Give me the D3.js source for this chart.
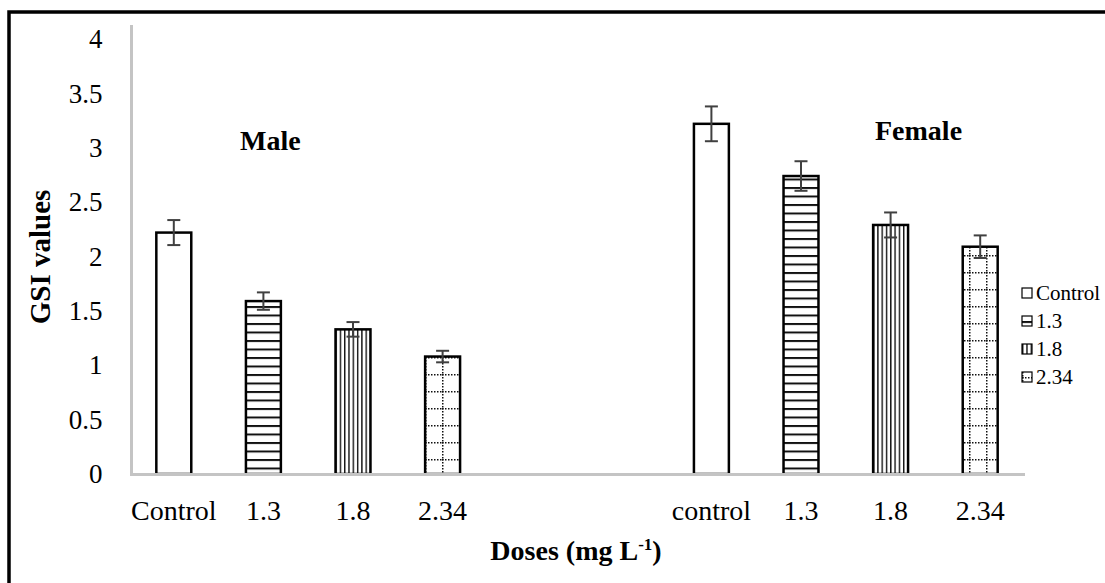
<!DOCTYPE html>
<html>
<head>
<meta charset="utf-8">
<script src="https://cdn.jsdelivr.net/npm/d3@7"></script>
<style>
  html, body { margin: 0; padding: 0; background: #fff; }
  svg text { font-family: "Liberation Serif", "Times New Roman", Tinos, "DejaVu Serif", serif !important; }
</style>
</head>
<body>
<svg id="chart" width="1105" height="583"></svg>
<script>
// Gonado-somatic index by dose, male and female groups
const doseSeries = ["Control", "1.3", "1.8", "2.34"];
const categoryKeys = ["m0", "m1", "m2", "m3", "gapA", "gapB", "f0", "f1", "f2", "f3"];
const categoryLabels = ["Control", "1.3", "1.8", "2.34", "", "", "control", "1.3", "1.8", "2.34"];
const maleGSI = [2.22, 1.59, 1.33, 1.08];
const maleErr = [0.115, 0.08, 0.067, 0.053];
const femaleGSI = [3.22, 2.74, 2.29, 2.09];
const femaleErr = [0.16, 0.136, 0.115, 0.104];
const yTicks = [0, 0.5, 1, 1.5, 2, 2.5, 3, 3.5, 4];
const yTickLabels = ["0", "0.5", "1", "1.5", "2", "2.5", "3", "3.5", "4"];
const groupLabels = ["Male", "Female"];

const bars = [
  ...maleGSI.map((v, i) => ({ key: categoryKeys[i], value: v, err: maleErr[i], series: i })),
  ...femaleGSI.map((v, i) => ({ key: categoryKeys[6 + i], value: v, err: femaleErr[i], series: i }))
];

const svg = d3.select("#chart");

const x = d3.scaleBand().domain(categoryKeys).range([129, 1025]).paddingInner(0.61).paddingOuter(0.305);
const y = d3.scaleLinear().domain([0, 4]).range([474, 39]);

// fill patterns for the dose series
const defs = svg.append("defs");
const hPat = defs.append("pattern").attr("id", "pat-h").attr("patternUnits", "userSpaceOnUse")
  .attr("width", 8).attr("height", 8.5);
hPat.append("rect").attr("width", 8).attr("height", 8.5).attr("fill", "#fff");
hPat.append("rect").attr("y", 0).attr("width", 8).attr("height", 2).attr("fill", "#111");

const vPat = defs.append("pattern").attr("id", "pat-v").attr("patternUnits", "userSpaceOnUse")
  .attr("width", 4.3).attr("height", 8);
vPat.append("rect").attr("width", 4.3).attr("height", 8).attr("fill", "#fff");
vPat.append("rect").attr("x", 0).attr("width", 1.4).attr("height", 8).attr("fill", "#111");

const dPat = defs.append("pattern").attr("id", "pat-d").attr("patternUnits", "userSpaceOnUse")
  .attr("width", 17).attr("height", 17);
dPat.append("rect").attr("width", 17).attr("height", 17).attr("fill", "#fff");
dPat.append("line").attr("x1", 0).attr("x2", 17).attr("y1", 0.75).attr("y2", 0.75)
  .attr("stroke", "#111").attr("stroke-width", 1.5).attr("stroke-dasharray", "1.5,1.5");
dPat.append("line").attr("x1", 0.75).attr("x2", 0.75).attr("y1", 0).attr("y2", 17)
  .attr("stroke", "#111").attr("stroke-width", 1.5).attr("stroke-dasharray", "1.5,1.5");

const fills = ["#fff", "url(#pat-h)", "url(#pat-v)", "url(#pat-d)"];

// outer frame
svg.append("rect").attr("x", 9).attr("y", 12).attr("width", 1200).attr("height", 700)
  .attr("fill", "none").attr("stroke", "#000").attr("stroke-width", 3.5);

// vertical axis line
svg.append("line").attr("x1", 131.5).attr("x2", 131.5).attr("y1", 25).attr("y2", y(0) + 1.5)
  .attr("stroke", "#c4c4c4").attr("stroke-width", 3);

// bars
svg.append("g").selectAll("rect").data(bars).join("rect")
  .attr("x", d => x(d.key))
  .attr("y", d => y(d.value))
  .attr("width", x.bandwidth())
  .attr("height", d => y(0) - y(d.value))
  .attr("fill", d => fills[d.series])
  .attr("stroke", "#000")
  .attr("stroke-width", 2.5);

// baseline
svg.append("line").attr("x1", 130).attr("x2", x.range()[1]).attr("y1", y(0) + 0.5).attr("y2", y(0) + 0.5)
  .attr("stroke", "#c4c4c4").attr("stroke-width", 3);

// error bars
const eg = svg.append("g").attr("stroke", "#404040").attr("stroke-width", 2);
bars.forEach(d => {
  const cx = x(d.key) + x.bandwidth() / 2;
  eg.append("line").attr("x1", cx).attr("x2", cx).attr("y1", y(d.value + d.err)).attr("y2", y(d.value - d.err));
  [d.value + d.err, d.value - d.err].forEach(v => {
    eg.append("line").attr("x1", cx - 6.5).attr("x2", cx + 6.5).attr("y1", y(v)).attr("y2", y(v));
  });
});

// y axis labels
const yAxis = d3.axisLeft(y).tickValues(yTicks).tickFormat((d, i) => yTickLabels[i]).tickSize(0).tickPadding(29);
const yg = svg.append("g").attr("transform", "translate(131.5,0)").call(yAxis);
yg.select(".domain").remove();
yg.attr("font-family", null).attr("font-size", null);
yg.selectAll("text").attr("font-size", 27).attr("fill", "#000");

// x axis labels
const xAxis = d3.axisBottom(x).tickFormat((d, i) => categoryLabels[i]).tickSize(0).tickPadding(26);
const xg = svg.append("g").attr("transform", `translate(0,${y(0)})`).call(xAxis);
xg.select(".domain").remove();
xg.attr("font-family", null).attr("font-size", null);
xg.selectAll("text").attr("font-size", 28).attr("fill", "#000");

// group labels
svg.append("text").attr("x", 240).attr("y", 150).attr("font-size", 28).attr("font-weight", "bold")
  .text(groupLabels[0]);
svg.append("text").attr("x", 875).attr("y", 140).attr("font-size", 28).attr("font-weight", "bold")
  .text(groupLabels[1]);

// axis titles
svg.append("text").attr("transform", "translate(50,257) rotate(-90)").attr("text-anchor", "middle")
  .attr("font-size", 29).attr("font-weight", "bold").text("GSI values");

const xt = svg.append("text").attr("x", 576).attr("y", 560).attr("text-anchor", "middle")
  .attr("font-size", 28).attr("font-weight", "bold");
xt.append("tspan").text("Doses (mg L");
xt.append("tspan").attr("font-size", 17).attr("dy", -10).text("-1");
xt.append("tspan").attr("dy", 10).text(")");

// legend
const lg = svg.append("g").attr("transform", "translate(1022,293)");
doseSeries.forEach((s, i) => {
  const row = lg.append("g").attr("transform", `translate(0,${i * 28})`);
  row.append("rect").attr("x", 0).attr("y", -5).attr("width", 10).attr("height", 10)
    .attr("fill", fills[i]).attr("stroke", "#000").attr("stroke-width", 1.2);
  row.append("text").attr("x", 14).attr("y", 7).attr("font-size", 21).attr("fill", "#000").text(s);
});
</script>
</body>
</html>
